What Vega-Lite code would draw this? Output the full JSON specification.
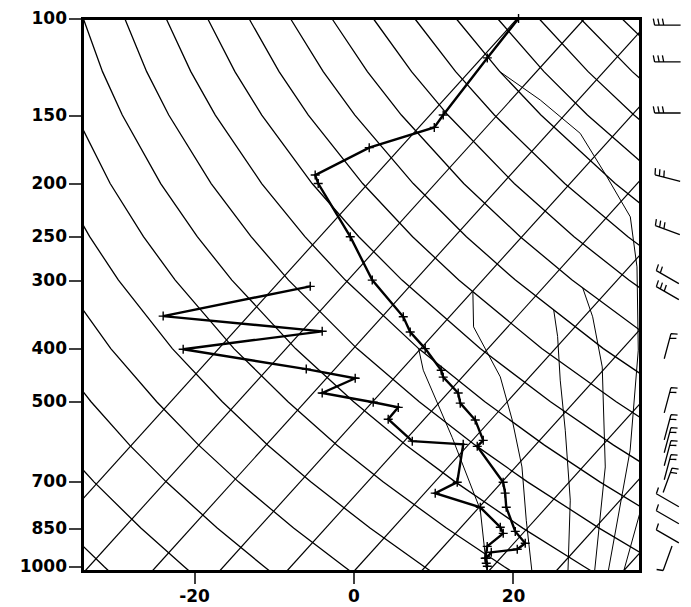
{
"$schema":"https://vega.github.io/schema/vega-lite/v6.json",
"width":558,"height":553,
"autosize":{"type":"none"},
"padding":{"left":82.5,"top":18.5,"right":50.5,"bottom":35.5},
"config":{"view":{"stroke":"black","strokeWidth":3},"axis":{"labelFont":"DejaVu Sans","labelFontSize":17,"labelFontWeight":"bold","labelColor":"black","tickColor":"black","tickWidth":1.5,"domain":false,"grid":false,"title":null}},
"datasets":{
"grid":[
{"g":"n-6","k":"d","p":600,"x":-45.44},{"g":"n-6","k":"d","p":700,"x":-41.62},{"g":"n-6","k":"d","p":850,"x":-36.26},{"g":"n-6","k":"d","p":1000,"x":-31.27},{"g":"n-6","k":"d","p":1020,"x":-30.63},
{"g":"n-5","k":"d","p":400,"x":-45.9},{"g":"n-5","k":"d","p":500,"x":-41.16},{"g":"n-5","k":"d","p":600,"x":-36.77},{"g":"n-5","k":"d","p":700,"x":-32.56},{"g":"n-5","k":"d","p":850,"x":-26.68},{"g":"n-5","k":"d","p":1000,"x":-21.23},{"g":"n-5","k":"d","p":1020,"x":-20.54},
{"g":"n-4","k":"d","p":250,"x":-46.61},{"g":"n-4","k":"d","p":300,"x":-43.72},{"g":"n-4","k":"d","p":400,"x":-38.17},{"g":"n-4","k":"d","p":500,"x":-32.93},{"g":"n-4","k":"d","p":600,"x":-28.09},{"g":"n-4","k":"d","p":700,"x":-23.5},{"g":"n-4","k":"d","p":850,"x":-17.1},{"g":"n-4","k":"d","p":1000,"x":-11.19},{"g":"n-4","k":"d","p":1020,"x":-10.44},
{"g":"n-3","k":"d","p":200,"x":-43.2},{"g":"n-3","k":"d","p":250,"x":-39.86},{"g":"n-3","k":"d","p":300,"x":-36.6},{"g":"n-3","k":"d","p":400,"x":-30.45},{"g":"n-3","k":"d","p":500,"x":-24.69},{"g":"n-3","k":"d","p":600,"x":-19.42},{"g":"n-3","k":"d","p":700,"x":-14.43},{"g":"n-3","k":"d","p":850,"x":-7.52},{"g":"n-3","k":"d","p":1000,"x":-1.15},{"g":"n-3","k":"d","p":1020,"x":-0.35},
{"g":"n-2","k":"d","p":125,"x":-42.57},{"g":"n-2","k":"d","p":150,"x":-40.68},{"g":"n-2","k":"d","p":200,"x":-36.86},{"g":"n-2","k":"d","p":250,"x":-33.1},{"g":"n-2","k":"d","p":300,"x":-29.49},{"g":"n-2","k":"d","p":400,"x":-22.73},{"g":"n-2","k":"d","p":500,"x":-16.46},{"g":"n-2","k":"d","p":600,"x":-10.75},{"g":"n-2","k":"d","p":700,"x":-5.37},{"g":"n-2","k":"d","p":850,"x":2.07},{"g":"n-2","k":"d","p":1000,"x":8.88},{"g":"n-2","k":"d","p":1020,"x":9.75},
{"g":"n-1","k":"d","p":100,"x":-39.1},{"g":"n-1","k":"d","p":125,"x":-37.03},{"g":"n-1","k":"d","p":150,"x":-34.85},{"g":"n-1","k":"d","p":200,"x":-30.53},{"g":"n-1","k":"d","p":250,"x":-26.35},{"g":"n-1","k":"d","p":300,"x":-22.37},{"g":"n-1","k":"d","p":400,"x":-15.0},{"g":"n-1","k":"d","p":500,"x":-8.22},{"g":"n-1","k":"d","p":600,"x":-2.07},{"g":"n-1","k":"d","p":700,"x":3.7},{"g":"n-1","k":"d","p":850,"x":11.65},{"g":"n-1","k":"d","p":1000,"x":18.92},{"g":"n-1","k":"d","p":1020,"x":19.85},
{"g":"n0","k":"d","p":100,"x":-33.9},{"g":"n0","k":"d","p":125,"x":-31.49},{"g":"n0","k":"d","p":150,"x":-29.01},{"g":"n0","k":"d","p":200,"x":-24.19},{"g":"n0","k":"d","p":250,"x":-19.6},{"g":"n0","k":"d","p":300,"x":-15.26},{"g":"n0","k":"d","p":400,"x":-7.28},{"g":"n0","k":"d","p":500,"x":0.01},{"g":"n0","k":"d","p":600,"x":6.6},{"g":"n0","k":"d","p":700,"x":12.76},{"g":"n0","k":"d","p":850,"x":21.23},{"g":"n0","k":"d","p":1000,"x":28.96},{"g":"n0","k":"d","p":1020,"x":29.94},
{"g":"n1","k":"d","p":100,"x":-28.7},{"g":"n1","k":"d","p":125,"x":-25.95},{"g":"n1","k":"d","p":150,"x":-23.18},{"g":"n1","k":"d","p":200,"x":-17.86},{"g":"n1","k":"d","p":250,"x":-12.85},{"g":"n1","k":"d","p":300,"x":-8.15},{"g":"n1","k":"d","p":400,"x":0.44},{"g":"n1","k":"d","p":500,"x":8.24},{"g":"n1","k":"d","p":600,"x":15.27},{"g":"n1","k":"d","p":700,"x":21.82},{"g":"n1","k":"d","p":850,"x":30.81},{"g":"n1","k":"d","p":1000,"x":39.0},
{"g":"n2","k":"d","p":100,"x":-23.51},{"g":"n2","k":"d","p":125,"x":-20.41},{"g":"n2","k":"d","p":150,"x":-17.34},{"g":"n2","k":"d","p":200,"x":-11.52},{"g":"n2","k":"d","p":250,"x":-6.1},{"g":"n2","k":"d","p":300,"x":-1.03},{"g":"n2","k":"d","p":400,"x":8.17},{"g":"n2","k":"d","p":500,"x":16.48},{"g":"n2","k":"d","p":600,"x":23.95},{"g":"n2","k":"d","p":700,"x":30.89},{"g":"n2","k":"d","p":850,"x":40.39},
{"g":"n3","k":"d","p":100,"x":-18.31},{"g":"n3","k":"d","p":125,"x":-14.88},{"g":"n3","k":"d","p":150,"x":-11.51},{"g":"n3","k":"d","p":200,"x":-5.19},{"g":"n3","k":"d","p":250,"x":0.66},{"g":"n3","k":"d","p":300,"x":6.08},{"g":"n3","k":"d","p":400,"x":15.89},{"g":"n3","k":"d","p":500,"x":24.71},{"g":"n3","k":"d","p":600,"x":32.62},{"g":"n3","k":"d","p":700,"x":39.95},
{"g":"n4","k":"d","p":100,"x":-13.12},{"g":"n4","k":"d","p":125,"x":-9.34},{"g":"n4","k":"d","p":150,"x":-5.67},{"g":"n4","k":"d","p":200,"x":1.15},{"g":"n4","k":"d","p":250,"x":7.41},{"g":"n4","k":"d","p":300,"x":13.2},{"g":"n4","k":"d","p":400,"x":23.61},{"g":"n4","k":"d","p":500,"x":32.95},{"g":"n4","k":"d","p":600,"x":41.29},
{"g":"n5","k":"d","p":100,"x":-7.92},{"g":"n5","k":"d","p":125,"x":-3.8},{"g":"n5","k":"d","p":150,"x":0.17},{"g":"n5","k":"d","p":200,"x":7.49},{"g":"n5","k":"d","p":250,"x":14.16},{"g":"n5","k":"d","p":300,"x":20.31},{"g":"n5","k":"d","p":400,"x":31.34},{"g":"n5","k":"d","p":500,"x":41.18},
{"g":"n6","k":"d","p":100,"x":-2.72},{"g":"n6","k":"d","p":125,"x":1.74},{"g":"n6","k":"d","p":150,"x":6.0},{"g":"n6","k":"d","p":200,"x":13.82},{"g":"n6","k":"d","p":250,"x":20.91},{"g":"n6","k":"d","p":300,"x":27.42},{"g":"n6","k":"d","p":400,"x":39.06},
{"g":"n7","k":"d","p":100,"x":2.47},{"g":"n7","k":"d","p":125,"x":7.28},{"g":"n7","k":"d","p":150,"x":11.84},{"g":"n7","k":"d","p":200,"x":20.16},{"g":"n7","k":"d","p":250,"x":27.66},{"g":"n7","k":"d","p":300,"x":34.54},{"g":"n7","k":"d","p":400,"x":46.78},
{"g":"n8","k":"d","p":100,"x":7.67},{"g":"n8","k":"d","p":125,"x":12.81},{"g":"n8","k":"d","p":150,"x":17.67},{"g":"n8","k":"d","p":200,"x":26.49},{"g":"n8","k":"d","p":250,"x":34.42},{"g":"n8","k":"d","p":300,"x":41.65},
{"g":"n9","k":"d","p":100,"x":12.86},{"g":"n9","k":"d","p":125,"x":18.35},{"g":"n9","k":"d","p":150,"x":23.51},{"g":"n9","k":"d","p":200,"x":32.83},{"g":"n9","k":"d","p":250,"x":41.17},
{"g":"n10","k":"d","p":100,"x":18.06},{"g":"n10","k":"d","p":125,"x":23.89},{"g":"n10","k":"d","p":150,"x":29.34},{"g":"n10","k":"d","p":200,"x":39.16},
{"g":"n11","k":"d","p":100,"x":23.25},{"g":"n11","k":"d","p":125,"x":29.43},{"g":"n11","k":"d","p":150,"x":35.18},{"g":"n11","k":"d","p":200,"x":45.5},
{"g":"n12","k":"d","p":100,"x":28.45},{"g":"n12","k":"d","p":125,"x":34.97},{"g":"n12","k":"d","p":150,"x":41.01},
{"g":"n13","k":"d","p":100,"x":33.65},{"g":"n13","k":"d","p":125,"x":40.5},
{"g":"t0","k":"t","p":100,"x":20.54},{"g":"t0","k":"t","p":1020,"x":-42.2},
{"g":"t1","k":"t","p":100,"x":28.99},{"g":"t1","k":"t","p":1020,"x":-33.75},
{"g":"t2","k":"t","p":100,"x":37.43},{"g":"t2","k":"t","p":1020,"x":-25.31},
{"g":"t3","k":"t","p":100,"x":45.88},{"g":"t3","k":"t","p":1020,"x":-16.86},
{"g":"t4","k":"t","p":100,"x":54.32},{"g":"t4","k":"t","p":1020,"x":-8.42},
{"g":"t5","k":"t","p":100,"x":62.77},{"g":"t5","k":"t","p":1020,"x":0.03},
{"g":"t6","k":"t","p":100,"x":71.21},{"g":"t6","k":"t","p":1020,"x":8.47},
{"g":"t7","k":"t","p":100,"x":79.65},{"g":"t7","k":"t","p":1020,"x":16.91},
{"g":"t8","k":"t","p":100,"x":88.1},{"g":"t8","k":"t","p":1020,"x":25.36},
{"g":"t9","k":"t","p":100,"x":96.54},{"g":"t9","k":"t","p":1020,"x":33.8},
{"g":"m0","k":"m","p":400,"x":8.17},{"g":"m0","k":"m","p":438,"x":8.75},{"g":"m0","k":"m","p":581,"x":12.38},{"g":"m0","k":"m","p":787,"x":15.9},{"g":"m0","k":"m","p":1020,"x":16.74},
{"g":"m1","k":"m","p":315,"x":14.97},{"g":"m1","k":"m","p":365.1,"x":15.06},{"g":"m1","k":"m","p":450.4,"x":18.41},{"g":"m1","k":"m","p":540,"x":19.91},{"g":"m1","k":"m","p":657.5,"x":21.13},{"g":"m1","k":"m","p":822.8,"x":21.67},{"g":"m1","k":"m","p":1020,"x":22.38},
{"g":"m2","k":"m","p":340,"x":25.11},{"g":"m2","k":"m","p":380,"x":25.6},{"g":"m2","k":"m","p":456.7,"x":25.93},{"g":"m2","k":"m","p":563.6,"x":26.56},{"g":"m2","k":"m","p":756,"x":27.19},{"g":"m2","k":"m","p":1020,"x":26.9},
{"g":"m3","k":"m","p":310,"x":28.75},{"g":"m3","k":"m","p":350,"x":30.0},{"g":"m3","k":"m","p":432,"x":31.2},{"g":"m3","k":"m","p":657.5,"x":31.58},{"g":"m3","k":"m","p":1020,"x":30.24},
{"g":"m4","k":"m","p":125,"x":18.35},{"g":"m4","k":"m","p":140.8,"x":23.42},{"g":"m4","k":"m","p":162,"x":28.44},{"g":"m4","k":"m","p":194.4,"x":31.79},{"g":"m4","k":"m","p":230,"x":34.72},{"g":"m4","k":"m","p":283.8,"x":35.56},{"g":"m4","k":"m","p":402.6,"x":35.72},{"g":"m4","k":"m","p":613,"x":34.7},{"g":"m4","k":"m","p":1020,"x":31.95},
{"g":"m5","k":"m","p":650,"x":37.2},{"g":"m5","k":"m","p":800,"x":35.9},{"g":"m5","k":"m","p":1020,"x":33.88}
],
"snd":[
{"v":"T","p":100,"x":20.7},{"v":"T","p":118,"x":16.78},{"v":"T","p":150,"x":11.25},{"v":"T","p":158,"x":10.13},{"v":"T","p":172,"x":1.97},{"v":"T","p":193,"x":-4.81},{"v":"T","p":200,"x":-4.43},{"v":"T","p":250,"x":-0.41},{"v":"T","p":300,"x":2.35},{"v":"T","p":350,"x":6.24},{"v":"T","p":373,"x":7.11},{"v":"T","p":400,"x":8.99},{"v":"T","p":438,"x":11.0},{"v":"T","p":451,"x":11.25},{"v":"T","p":482,"x":13.13},{"v":"T","p":503,"x":13.39},{"v":"T","p":540,"x":15.27},{"v":"T","p":588,"x":16.27},{"v":"T","p":603,"x":15.52},{"v":"T","p":701,"x":18.77},{"v":"T","p":734,"x":19.02},{"v":"T","p":779,"x":19.16},{"v":"T","p":862,"x":20.29},{"v":"T","p":906,"x":21.54},{"v":"T","p":929,"x":20.54},{"v":"T","p":941,"x":17.28},{"v":"T","p":965,"x":16.65},{"v":"T","p":998,"x":16.78},
{"v":"Td","p":308,"x":-5.43},{"v":"Td","p":349,"x":-23.88},{"v":"Td","p":372,"x":-3.93},{"v":"Td","p":401,"x":-21.37},{"v":"Td","p":436,"x":-5.93},{"v":"Td","p":453,"x":0.21},{"v":"Td","p":482,"x":-3.93},{"v":"Td","p":501,"x":2.47},{"v":"Td","p":512,"x":5.61},{"v":"Td","p":538,"x":4.35},{"v":"Td","p":590,"x":7.37},{"v":"Td","p":598,"x":13.76},{"v":"Td","p":701,"x":13.01},{"v":"Td","p":734,"x":10.25},{"v":"Td","p":779,"x":15.9},{"v":"Td","p":847,"x":18.41},{"v":"Td","p":869,"x":18.78},{"v":"Td","p":918,"x":16.77},{"v":"Td","p":965,"x":16.52},{"v":"Td","p":985,"x":16.65}
],
"wind":[
{"p":102.8,"dir":270,"spd":30},{"p":120,"dir":270,"spd":30},{"p":148.7,"dir":270,"spd":30},{"p":195.5,"dir":285,"spd":30},{"p":243.2,"dir":290,"spd":30},{"p":296.3,"dir":300,"spd":20},{"p":316.9,"dir":300,"spd":30},{"p":396,"dir":15,"spd":20},{"p":496.9,"dir":15,"spd":20},{"p":556.6,"dir":15,"spd":20},{"p":587.7,"dir":15,"spd":20},{"p":620.7,"dir":15,"spd":20},{"p":658.3,"dir":15,"spd":20},{"p":695.3,"dir":20,"spd":20},{"p":756.2,"dir":300,"spd":10},{"p":812,"dir":300,"spd":10},{"p":880,"dir":300,"spd":10},{"p":965,"dir":200,"spd":10}
]
},
"layer":[
{"data":{"name":"grid"},
 "mark":{"type":"line","clip":true,"color":"black"},
 "encoding":{
  "x":{"field":"x","type":"quantitative","scale":{"domain":[-34,36],"nice":false,"zero":false},"axis":{"values":[-20,0,20],"tickSize":12,"labelPadding":5,"labelExpr":"'' + datum.value"}},
  "y":{"field":"p","type":"quantitative","scale":{"type":"log","domain":[100,1020],"reverse":true,"nice":false},"axis":{"values":[100,150,200,250,300,400,500,700,850,1000],"tickSize":14,"labelPadding":2,"labelExpr":"'' + datum.value"}},
  "detail":{"field":"g"},
  "order":{"field":"p","type":"quantitative"},
  "strokeWidth":{"field":"k","type":"nominal","scale":{"domain":["d","t","m"],"range":[1.3,1.0,1.2]},"legend":null}
 }},
{"data":{"name":"snd"},
 "mark":{"type":"line","color":"black","strokeWidth":2.4,"clip":true},
 "encoding":{
  "x":{"field":"x","type":"quantitative"},
  "y":{"field":"p","type":"quantitative"},
  "detail":{"field":"v"},
  "order":{"field":"p","type":"quantitative"}
 }},
{"data":{"name":"snd"},
 "mark":{"type":"point","shape":"M-1,0H1M0,-1V1","filled":false,"size":81,"stroke":"black","strokeWidth":1.4,"opacity":1},
 "encoding":{
  "x":{"field":"x","type":"quantitative"},
  "y":{"field":"p","type":"quantitative"}
 }},
{"data":{"name":"wind"},
 "mark":{"type":"point","filled":false,"size":676,"stroke":"black","strokeWidth":1.3,"opacity":1,"clip":false},
 "encoding":{
  "x":{"datum":39.4,"type":"quantitative"},
  "y":{"field":"p","type":"quantitative"},
  "angle":{"field":"dir","type":"quantitative","scale":null},
  "shape":{"field":"spd","type":"ordinal","scale":{"domain":[10,20,30],"range":["M0,1L0,-1M0,-1L0.5,-1.1","M0,1L0,-1M0,-1L0.5,-1.1M0,-0.65L0.5,-0.75","M0,1L0,-1M0,-1L0.5,-1.1M0,-0.65L0.5,-0.75M0,-0.3L0.5,-0.4"]},"legend":null}
 }}
]
}
